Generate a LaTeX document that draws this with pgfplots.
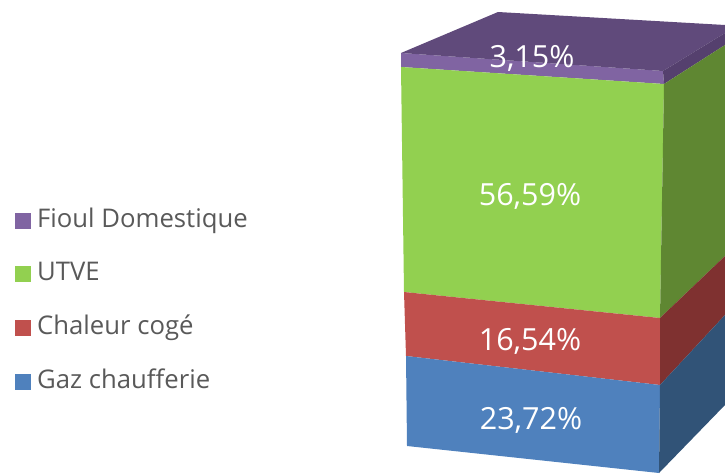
\documentclass[border=0pt]{standalone}
\usepackage{pgfplots}
\pgfplotsset{compat=1.18}
\usepackage{fontspec}
\setmainfont{Open Sans}

\definecolor{fioul}{HTML}{8064A2}
\definecolor{fioultop}{HTML}{604A7B}
\definecolor{fioulside}{HTML}{55406E}
\definecolor{utve}{HTML}{92D050}
\definecolor{utveside}{HTML}{5F8732}
\definecolor{coge}{HTML}{C0504D}
\definecolor{cogeside}{HTML}{7F3130}
\definecolor{gaz}{HTML}{4F81BD}
\definecolor{gazside}{HTML}{315377}

\begin{document}
\begin{tikzpicture}[x=1pt,y=1pt]
\begin{axis}[
    width=725pt, height=474pt, scale only axis,
    xmin=0, xmax=725, ymin=0, ymax=474, y dir=reverse,
    hide axis,
    legend cell align=left,
    legend style={
        at={(axis cs:14.5,208)}, anchor=north west,
        draw=none, fill=none,
        font=\fontsize{25.7}{28}\selectfont, text=black!65,
        row sep=28.7pt, inner sep=0pt, outer sep=0pt,
        nodes={inner sep=0pt, outer sep=0pt, text height=19pt, text depth=6pt},
    },
    legend image code/.code={\fill[#1] (0pt,-8pt) rectangle (16pt,8pt);},
    every axis plot/.append style={draw=none},
]
% keep the whole frame as the page, hide axis alone would crop to the drawn faces
\path (axis cs:0,0) rectangle (axis cs:725,474);
% front faces, pixel positions (y grows downwards)
\addplot[fill=fioul] coordinates {(401,53)(663,71)(664,84)(401,67)} -- cycle;
\addlegendentry{\ Fioul Domestique}
\addplot[fill=utve] coordinates {(401,67)(664,84)(660,318)(404,292)} -- cycle;
\addlegendentry{\ UTVE}
\addplot[fill=coge] coordinates {(404,292)(660,318)(660,385)(406,356)} -- cycle;
\addlegendentry{\ Chaleur cogé}
\addplot[fill=gaz] coordinates {(406,356)(660,385)(659,473)(407,446)} -- cycle;
\addlegendentry{\ Gaz chaufferie}
% top and right side faces
\addplot[fill=fioultop, forget plot] coordinates {(401,53)(498,12)(725,25)(725,33)(663,71)} -- cycle;
\addplot[fill=fioulside, forget plot] coordinates {(663,71)(725,33)(725,45)(664,84)} -- cycle;
\addplot[fill=utveside, forget plot] coordinates {(664,84)(725,45)(725,256)(660,318)} -- cycle;
\addplot[fill=cogeside, forget plot] coordinates {(660,318)(725,256)(725,315)(660,385)} -- cycle;
\addplot[fill=gazside, forget plot] coordinates {(660,385)(725,315)(725,405)(659,473)} -- cycle;
% value labels
\begin{scope}[every node/.style={text=white, font=\fontsize{30.5}{34}\selectfont}]
\node at (axis cs:532,58) {3,15\%};
\node at (axis cs:530,196) {56,59\%};
\node at (axis cs:530,341) {16,54\%};
\node at (axis cs:531,420) {23,72\%};
\end{scope}
\end{axis}
\end{tikzpicture}
\end{document}
